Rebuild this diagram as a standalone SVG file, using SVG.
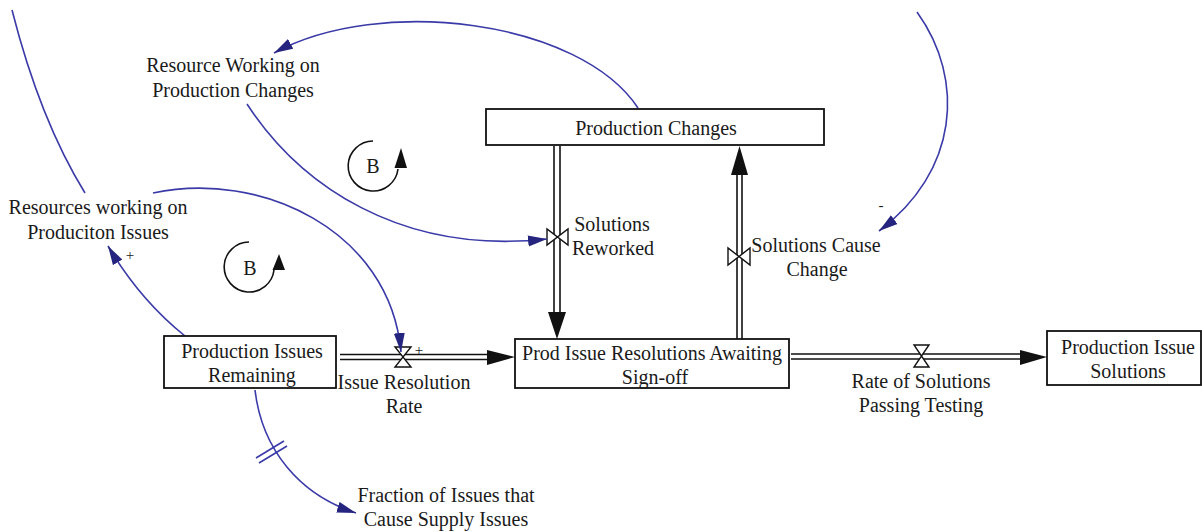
<svg xmlns="http://www.w3.org/2000/svg" width="1202" height="532" viewBox="0 0 1202 532">
<style>
.bg{fill:#fff}
.box{fill:#fff;stroke:#111;stroke-width:1.8}
.t{font-family:'Liberation Serif','Times New Roman','DejaVu Serif',serif;font-size:20px;fill:#1a1a1a;text-anchor:middle}
.s{font-family:'Liberation Serif','Times New Roman','DejaVu Serif',serif;font-size:15px;fill:#1a1a1a;text-anchor:middle}
.link{fill:none;stroke:#3a3aa8;stroke-width:1.6}
.pipe{fill:none;stroke:#111;stroke-width:1.6}
.valve{fill:#fff;stroke:#111;stroke-width:1.4}
.head{fill:#111}
.loop{fill:none;stroke:#111;stroke-width:1.6}
</style>
<defs>
<marker id="ah" markerWidth="20" markerHeight="12" refX="19" refY="6" orient="auto" markerUnits="userSpaceOnUse">
<path d="M0,0.5 L19,6 L0,11.5 Z" fill="#25257f"/>
</marker>
</defs>
<rect class="bg" x="0" y="0" width="1202" height="532"/>

<g id="connectors">
<g id="flow-issue-resolution">
<line class="pipe" x1="340" y1="354.5" x2="490" y2="354.5"/>
<line class="pipe" x1="340" y1="359.5" x2="490" y2="359.5"/>
<polygon class="head" points="487,350 515,357 487,365"/>
<polygon class="valve" points="395,347 411,347 395,367 411,367"/>
</g>
<g id="flow-passing-testing">
<line class="pipe" x1="791" y1="354" x2="1022" y2="354"/>
<line class="pipe" x1="791" y1="359" x2="1022" y2="359"/>
<polygon class="head" points="1020,350 1047,357 1020,365"/>
<polygon class="valve" points="914,345 929,345 914,367 929,367"/>
</g>
<g id="flow-reworked">
<line class="pipe" x1="554" y1="146" x2="554" y2="314"/>
<line class="pipe" x1="560" y1="146" x2="560" y2="314"/>
<polygon class="head" points="548,312 566,312 557,339"/>
<polygon class="valve" points="547,229 547,245 568,229 568,245"/>
</g>
<g id="flow-cause-change">
<line class="pipe" x1="737" y1="339" x2="737" y2="173"/>
<line class="pipe" x1="742" y1="339" x2="742" y2="173"/>
<polygon class="head" points="731,175 748,175 739.5,146"/>
<polygon class="valve" points="728,248 728,265 750,248 750,265"/>
</g>
<path class="link" d="M 917 12 C 966 80, 958 172, 879 231" marker-end="url(#ah)"/>
<path class="link" d="M 638 108 C 580 20, 380 -5, 274 53" marker-end="url(#ah)"/>
<path class="link" d="M 247 104 C 300 185, 400 255, 547 239" marker-end="url(#ah)"/>
<path class="link" d="M 12 10 Q 40 120, 85 193"/>
<path class="link" d="M 153 193 C 260 170, 390 230, 401 352" marker-end="url(#ah)"/>
<path class="link" d="M 185 336 Q 140 300, 108 246" marker-end="url(#ah)"/>
<path class="link" d="M 255 390 C 262 450, 300 495, 356 513" marker-end="url(#ah)"/>
<line class="link" x1="256" y1="458" x2="284" y2="441"/>
<line class="link" x1="259" y1="463" x2="287" y2="446"/>
<text class="s" x="881" y="210">-</text>
<text class="s" x="419" y="355">+</text>
<text class="s" x="130" y="260">+</text>
</g>

<g id="production-changes">
<rect class="box" x="486" y="109" width="338" height="36"/>
<text class="t" x="656" y="135">Production Changes</text>
</g>
<g id="production-issues-remaining">
<rect class="box" x="164" y="336" width="172" height="52"/>
<text class="t" x="252" y="358">Production Issues</text>
<text class="t" x="252" y="382">Remaining</text>
</g>
<g id="prod-issue-resolutions">
<rect class="box" x="515" y="339" width="274" height="49"/>
<text class="t" x="652" y="360">Prod Issue Resolutions Awaiting</text>
<text class="t" x="655" y="384">Sign-off</text>
</g>
<g id="production-issue-solutions">
<rect class="box" x="1047" y="331" width="154" height="54"/>
<text class="t" x="1128" y="354">Production Issue</text>
<text class="t" x="1128" y="378">Solutions</text>
</g>
<g id="issue-resolution-rate">
<text class="t" x="404" y="389">Issue Resolution</text>
<text class="t" x="404" y="413">Rate</text>
</g>
<g id="rate-passing-testing">
<text class="t" x="921" y="388">Rate of Solutions</text>
<text class="t" x="921" y="412">Passing Testing</text>
</g>
<g id="solutions-reworked">
<text class="t" x="612" y="231">Solutions</text>
<text class="t" x="613" y="255">Reworked</text>
</g>
<g id="solutions-cause-change">
<text class="t" x="816" y="252">Solutions Cause</text>
<text class="t" x="817" y="276">Change</text>
</g>
<g id="resource-working-changes">
<text class="t" x="233" y="72">Resource Working on</text>
<text class="t" x="233" y="97">Production Changes</text>
</g>
<g id="resources-working-issues">
<text class="t" x="98" y="214">Resources working on</text>
<text class="t" x="98" y="239">Produciton Issues</text>
</g>
<g id="fraction-issues">
<text class="t" x="446" y="502">Fraction of Issues that</text>
<text class="t" x="446" y="526">Cause Supply Issues</text>
</g>
<g id="loop-b1">
<path class="loop" d="M 373 141 A 25 25 0 1 0 398 169"/>
<polygon class="head" points="394.5,168 407,168 401,148"/>
<text class="t" x="373" y="173">B</text>
</g>
<g id="loop-b2">
<path class="loop" d="M 249 242 A 25 25 0 1 0 274 270"/>
<polygon class="head" points="272.5,270 285,270 279,254"/>
<text class="t" x="250" y="275">B</text>
</g>
</svg>
